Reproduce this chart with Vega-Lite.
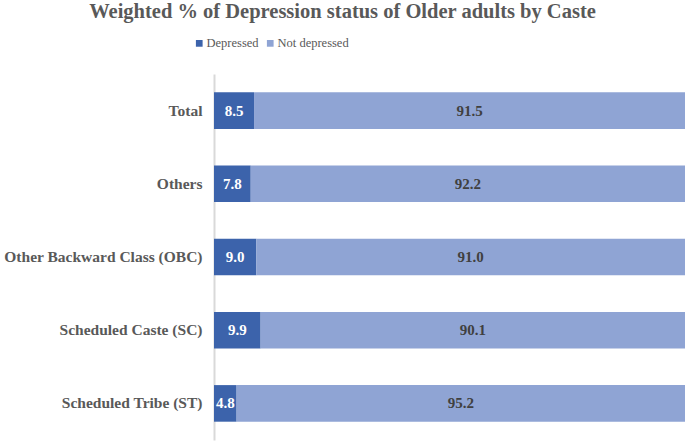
{
  "$schema": "https://vega.github.io/schema/vega-lite/v6.json",
  "width": 471,
  "height": 366,
  "autosize": "none",
  "padding": {"left": 214, "top": 74, "right": 0, "bottom": 1},
  "background": "white",
  "view": {"stroke": null},
  "title": {
    "text": "Weighted % of Depression status of Older adults by Caste",
    "font": "Liberation Serif",
    "fontSize": 20.5,
    "fontWeight": "bold",
    "color": "#595959",
    "anchor": "middle",
    "dx": -107,
    "dy": -15,
    "baseline": "top",
    "offset": 0
  },
  "data": {
    "values": [
      {"caste": "Total", "status": "Depressed", "value": 8.5, "ord": 0},
      {"caste": "Total", "status": "Not depressed", "value": 91.5, "ord": 1},
      {"caste": "Others", "status": "Depressed", "value": 7.8, "ord": 0},
      {"caste": "Others", "status": "Not depressed", "value": 92.2, "ord": 1},
      {"caste": "Other Backward Class (OBC)", "status": "Depressed", "value": 9.0, "ord": 0},
      {"caste": "Other Backward Class (OBC)", "status": "Not depressed", "value": 91.0, "ord": 1},
      {"caste": "Scheduled Caste (SC)", "status": "Depressed", "value": 9.9, "ord": 0},
      {"caste": "Scheduled Caste (SC)", "status": "Not depressed", "value": 90.1, "ord": 1},
      {"caste": "Scheduled Tribe (ST)", "status": "Depressed", "value": 4.8, "ord": 0},
      {"caste": "Scheduled Tribe (ST)", "status": "Not depressed", "value": 95.2, "ord": 1}
    ]
  },
  "transform": [
    {"stack": "value", "groupby": ["caste"], "sort": [{"field": "ord", "order": "ascending"}], "as": ["x0", "x1"]},
    {"calculate": "(datum.x0 + datum.x1) / 2", "as": "xm"}
  ],
  "encoding": {
    "y": {
      "field": "caste",
      "type": "nominal",
      "sort": ["Total", "Others", "Other Backward Class (OBC)", "Scheduled Caste (SC)", "Scheduled Tribe (ST)"],
      "scale": {"paddingInner": 0.5, "paddingOuter": 0.25},
      "axis": {
        "title": null,
        "ticks": false,
        "labelFont": "Liberation Serif",
        "labelFontSize": 15.5,
        "labelFontWeight": "bold",
        "labelColor": "#595959",
        "labelPadding": 12,
        "labelLimit": 300,
        "domainColor": "#D9D9D9",
        "domainWidth": 2
      }
    }
  },
  "layer": [
    {
      "mark": {"type": "bar"},
      "encoding": {
        "x": {"field": "x0", "type": "quantitative", "scale": {"domain": [0, 100], "nice": false}, "axis": null},
        "x2": {"field": "x1"},
        "color": {
          "field": "status",
          "type": "nominal",
          "scale": {"domain": ["Depressed", "Not depressed"], "range": ["#3C63AB", "#8FA4D4"]},
          "legend": {
            "title": null,
            "orient": "none",
            "direction": "horizontal",
            "legendX": -21,
            "legendY": -37,
            "symbolType": "square",
            "symbolSize": 45,
            "symbolStrokeWidth": 0,
            "labelFont": "Liberation Serif",
            "labelFontSize": 12.5,
            "labelColor": "#595959",
            "labelOffset": 1,
            "columnPadding": 5
          }
        }
      }
    },
    {
      "mark": {"type": "text", "font": "Liberation Serif", "fontSize": 15, "fontWeight": "bold"},
      "encoding": {
        "x": {"field": "xm", "type": "quantitative"},
        "text": {"field": "value", "type": "quantitative", "format": ".1f"},
        "color": {
          "condition": {"test": "datum.status === 'Depressed'", "value": "#FFFFFF"},
          "value": "#404040"
        }
      }
    }
  ]
}
